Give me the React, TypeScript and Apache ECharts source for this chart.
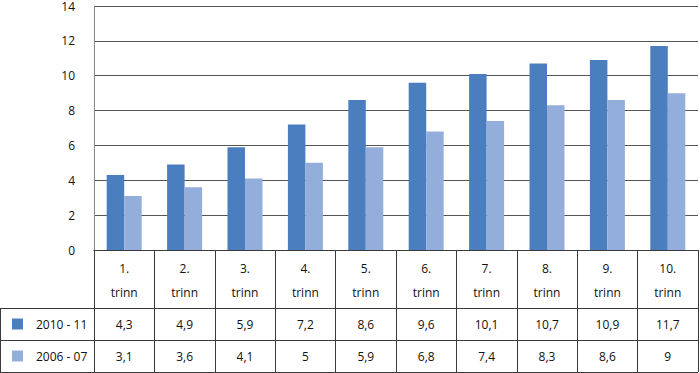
import React, { useEffect, useRef } from "react";
import * as echarts from "echarts";

const categories = ["1.", "2.", "3.", "4.", "5.", "6.", "7.", "8.", "9.", "10."];
const seriesNames = ["2010 - 11", "2006 - 07"];
const values2010 = [4.3, 4.9, 5.9, 7.2, 8.6, 9.6, 10.1, 10.7, 10.9, 11.7];
const values2006 = [3.1, 3.6, 4.1, 5, 5.9, 6.8, 7.4, 8.3, 8.6, 9];
const colors = ["#4A7EBF", "#94AEDB"];

const FONT = "Open Sans";
const fmt = (v: number) => String(v).replace(".", ",");

export default function App() {
  const ref = useRef<HTMLDivElement>(null);
  useEffect(() => {
    if (!ref.current) return;
    const chart = echarts.init(ref.current, null, { renderer: "svg" });
    const lineColor = "#3a3a3a";
    const txt = { fontFamily: FONT, fontSize: 12, color: "#111" };
    chart.setOption({
      animation: false,
      backgroundColor: "#fff",
      grid: { left: 94, right: 2, top: 6, bottom: 123, containLabel: false },
      legend: {
        orient: "vertical",
        left: 7,
        top: 313,
        itemWidth: 11,
        itemHeight: 11,
        itemGap: 20,
        icon: "rect",
        textStyle: { ...txt, padding: [0, 0, 0, 8] },
        data: seriesNames,
      },
      yAxis: {
        type: "value",
        min: 0,
        max: 14,
        interval: 2,
        axisLine: { show: true, lineStyle: { color: "#8a8a8a", width: 1 } },
        axisTick: { show: false },
        axisLabel: { ...txt, margin: 19 },
        splitLine: { show: true, lineStyle: { color: "#555", width: 1 } },
      },
      xAxis: [
        {
          type: "category",
          data: categories,
          position: "bottom",
          axisLine: { show: true, onZero: false, lineStyle: { color: lineColor, width: 1 } },
          axisTick: {
            show: true,
            interval: 0,
            length: 122,
            lineStyle: { color: lineColor, width: 1 },
          },
          axisLabel: {
            ...txt,
            interval: 0,
            margin: 6,
            lineHeight: 24,
            formatter: (v: string) => `${v}\ntrinn`,
          },
        },
        {
          type: "category",
          data: values2010.map(fmt),
          position: "bottom",
          offset: 58,
          axisLine: { show: false },
          axisTick: { show: false },
          axisLabel: { ...txt, interval: 0, margin: 10 },
        },
        {
          type: "category",
          data: values2006.map(fmt),
          position: "bottom",
          offset: 90,
          axisLine: { show: false },
          axisTick: { show: false },
          axisLabel: { ...txt, interval: 0, margin: 10 },
        },
      ],
      series: [
        {
          name: seriesNames[0],
          type: "bar",
          xAxisIndex: 0,
          data: values2010,
          barWidth: 17.5,
          barGap: "0%",
          itemStyle: { color: colors[0] },
        },
        {
          name: seriesNames[1],
          type: "bar",
          xAxisIndex: 0,
          data: values2006,
          barWidth: 17.5,
          barGap: "0%",
          itemStyle: { color: colors[1] },
        },
      ],
      graphic: [
        { type: "line", shape: { x1: 0, y1: 308.5, x2: 698, y2: 308.5 }, style: { stroke: lineColor, lineWidth: 1 } },
        { type: "line", shape: { x1: 0, y1: 340.5, x2: 698, y2: 340.5 }, style: { stroke: lineColor, lineWidth: 1 } },
        { type: "line", shape: { x1: 0, y1: 372.5, x2: 698, y2: 372.5 }, style: { stroke: lineColor, lineWidth: 1 } },
        { type: "line", shape: { x1: 0.5, y1: 308, x2: 0.5, y2: 373 }, style: { stroke: lineColor, lineWidth: 1 } },
      ],
    });
    return () => chart.dispose();
  }, []);
  return (
    <div
      ref={ref}
      style={{ position: "absolute", left: 0, top: 0, width: 700, height: 373 }}
    />
  );
}
